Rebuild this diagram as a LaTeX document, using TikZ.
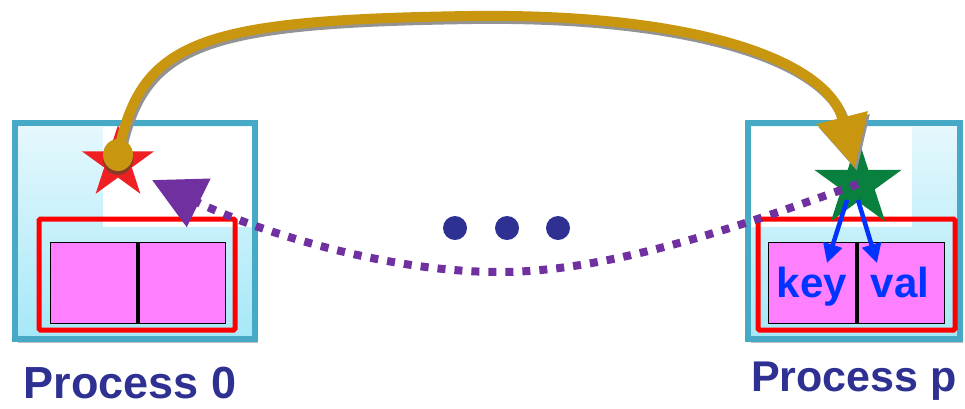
\documentclass[tikz,border=0pt]{standalone}
\usepackage{fontspec}
\setmainfont{Liberation Sans}
\usetikzlibrary{arrows.meta,shapes.geometric,shadows}
\definecolor{boxborder}{HTML}{46AAC6}
\definecolor{boxtop}{HTML}{E6F8FD}
\definecolor{boxbot}{HTML}{A6E8F8}
\definecolor{goldc}{HTML}{C9960F}
\definecolor{goldshadow}{HTML}{8A3A24}
\definecolor{purplec}{HTML}{7030A0}
\definecolor{pinkc}{HTML}{FF80FF}
\definecolor{navyc}{HTML}{2E3192}
\definecolor{greenc}{HTML}{0A803E}
\definecolor{bluec}{HTML}{0033FF}
\definecolor{starred}{HTML}{EE2024}
\begin{document}
\begin{tikzpicture}[x=1pt,y=-1pt,
  procbox/.style={draw=boxborder, line width=6pt, top color=boxtop, bottom color=boxbot,
    minimum height=216pt, inner sep=0pt,
    drop shadow={shadow xshift=3pt, shadow yshift=-4pt, fill=black, opacity=0.25}},
  memframe/.style={draw=red, line width=5pt, rounded corners=1.5pt, minimum height=111pt, inner sep=0pt},
  cell/.style={draw=black, line width=1pt, fill=pinkc, minimum height=81pt, inner sep=0pt,
    text=bluec, font=\bfseries\fontsize{42}{42}\selectfont, text height=30pt, text depth=0pt},
  divider/.style={line width=4pt, draw=black},
  startag/.style={star, star points=5, star point ratio=2.618, inner sep=0pt},
  dot/.style={circle, fill=navyc, minimum size=24pt, inner sep=0pt},
  goldline/.style={line width=10pt, -{Triangle[length=52pt,width=50pt]}},
  purpleline/.style={draw=purplec, line width=8pt, dash pattern=on 8pt off 9pt,
    -{Triangle[length=52pt,width=52pt]}},
  bluearrow/.style={draw=bluec, line width=4.5pt, -{Triangle[length=19pt,width=19pt]}},
  proclabel/.style={text=navyc, anchor=base, inner sep=0pt}
]
\useasboundingbox (0,0) rectangle (965,408);

% process boxes
\node[procbox, minimum width=240pt] (p0) at (135,231) {};
\fill[white] (103,126.5) rectangle (252,227);
\node[procbox, minimum width=212pt] (pp) at (854,231) {};
\fill[white] (751,126.5) rectangle (912,227);

% memory frames
\node[memframe, minimum width=196pt] (m0) at (137,274.5) {};
\node[memframe, minimum width=197pt] (mp) at (856.5,274.5) {};

% cells
\node[cell, minimum width=87pt] (c0a) at (93.5,282.5) {};
\node[cell, minimum width=88pt] (c0b) at (181,282.5) {};
\draw[divider] (c0a.north east) -- (c0a.south east);
\node[cell, minimum width=88pt] (key) at (812,282.5) {key};
\node[cell, minimum width=88pt] (val) at (900,282.5) {val};
\draw[divider] (key.north east) -- (key.south east);

% stars
\node[startag, minimum size=76pt, fill=starred] (s0) at (118,163) {};
\node[startag, minimum size=92pt, fill=greenc] (sp) at (858,184) {};

% dotted purple arrow
\draw[purpleline] (sp.center) .. controls (770,215) and (620,272) .. (500,272)
  .. controls (380,272) and (250,228) .. (152,180);

% gold arrow
\coordinate (g0) at (118,155);
\coordinate (gt) at (855,168);
\draw[goldline, draw=gray!85, transform canvas={shift={(2pt,-3pt)}}]
  (g0) .. controls (140,40) and (200,20) .. (470,16)
  .. controls (700,13) and (828,62) .. (gt);
\draw[goldline, draw=goldc]
  (g0) .. controls (140,40) and (200,20) .. (470,16)
  .. controls (700,13) and (828,62) .. (gt);
\node[ellipse, fill=goldshadow, minimum width=30pt, minimum height=32pt, inner sep=0pt] (g0s) at (118,159) {};
\node[ellipse, fill=goldc, minimum width=30pt, minimum height=32pt, inner sep=0pt] (g0c) at (g0) {};

% blue arrows
\draw[bluearrow] ([xshift=-11pt,yshift=-16pt]sp.center) -- ([xshift=15pt,yshift=-21.5pt]key.north);
\draw[bluearrow] ([yshift=-16pt]sp.center) -- ([xshift=-23pt,yshift=-21.5pt]val.north);

% ellipsis dots
\node[dot] (d1) at (455,228) {};
\node[dot] (d2) at (507,228) {};
\node[dot] (d3) at (558,228) {};

% labels
\node[proclabel, font=\bfseries\fontsize{45}{45}\selectfont] (l0) at (130,398) {Process 0};
\node[proclabel, font=\bfseries\fontsize{43}{43}\selectfont] (lp) at (854,391) {Process p};
\end{tikzpicture}
\end{document}
